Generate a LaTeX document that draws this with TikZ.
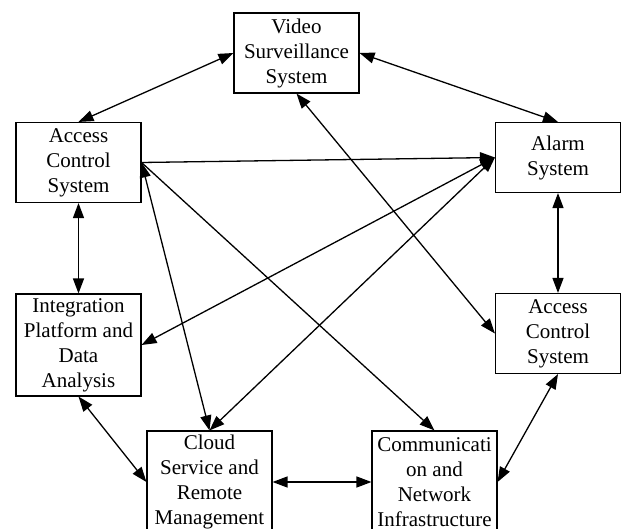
\documentclass[tikz,border=0pt]{standalone}
\usepackage{fontspec}
\setmainfont{Liberation Serif}
\usetikzlibrary{arrows.meta}
\tikzset{
  sysbox/.style={draw, line width=1.1pt, fill=white, align=center, inner sep=0pt,
    minimum width=125pt, minimum height=80pt,
    font=\fontsize{21}{25}\selectfont,
    execute at begin node={\rule{0pt}{21.5pt}}},
  link/.style={line width=1.3pt, {Triangle[length=15pt,width=11pt]}-{Triangle[length=15pt,width=11pt]}},
  onelink/.style={line width=1.3pt, -{Triangle[length=15pt,width=11pt]}}
}
\begin{document}
\begin{tikzpicture}[node distance=100pt]
\useasboundingbox (-296.5pt,53pt) rectangle (324.5pt,-476pt);
\node (video) [sysbox] {Video\\Surveillance\\System};
\node (accL) [sysbox, below of=video, xshift=-218pt, yshift=-9.5pt] {Access\\Control\\System};
\node (alarm) [sysbox, minimum height=70pt, right of=video, xshift=161.5pt, yshift=-104.5pt] {Alarm\\System};
\node (integ) [sysbox, minimum height=102pt, below of=accL, yshift=-82.5pt] {Integration\\Platform and\\Data\\Analysis};
\node (accR) [sysbox, below of=alarm, yshift=-76pt] {Access\\Control\\System};
\node (cloud) [sysbox, minimum height=102pt, below of=integ, xshift=131pt, yshift=-37pt] {Cloud\\Service and\\Remote\\Management};
\node (comm) [sysbox, minimum height=102pt, right of=cloud, xshift=125pt] {Communicati\\on and\\Network\\Infrastructure};
\draw[link] (accL.north) -- (video.west);
\draw[link] (video.east) -- (alarm.north);
\draw[link] (video.south) -- (accR.west);
\draw[onelink] (accL.east) -- (alarm.west);
\draw[onelink] (accL.east) -- (comm.north);
\draw[link] (accL.east) -- (cloud.north);
\draw[link] (alarm.west) -- (integ.east);
\draw[link] (alarm.west) -- (cloud.north);
\draw[link] (accL.south) -- (integ.north);
\draw[link] (alarm.south) -- (accR.north);
\draw[link] (integ.south) -- (cloud.west);
\draw[link] (cloud.east) -- (comm.west);
\draw[link] (comm.east) -- (accR.south);
\end{tikzpicture}
\end{document}
